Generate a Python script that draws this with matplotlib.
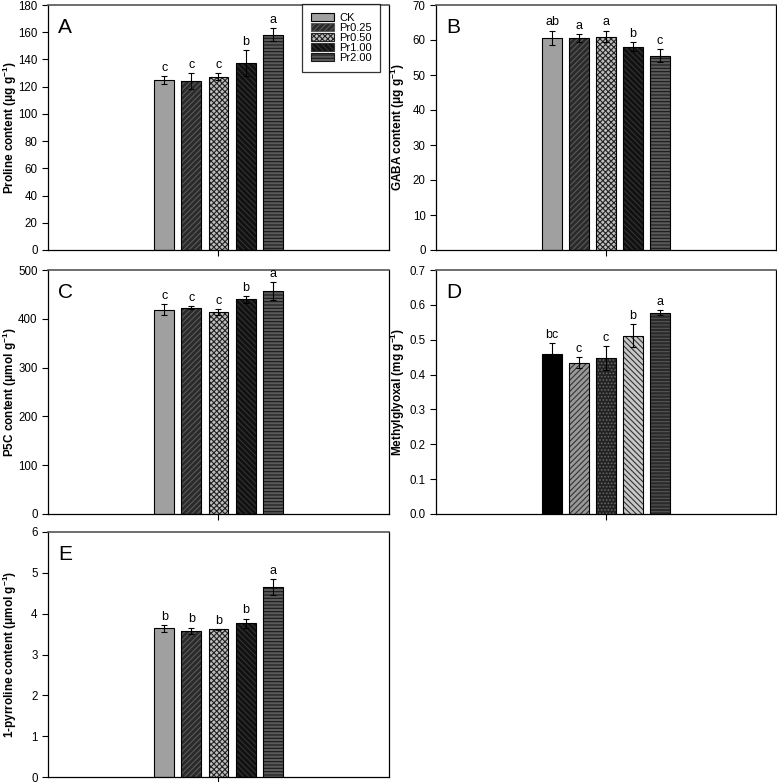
import numpy as np
import matplotlib
matplotlib.use('Agg')
import matplotlib.pyplot as plt
from matplotlib.patches import Patch

plt.rcParams['font.family'] = ['Liberation Sans', 'DejaVu Sans']
plt.rcParams['hatch.linewidth'] = 0.8
plt.rcParams['mathtext.fontset'] = 'custom'
plt.rcParams['mathtext.rm'] = 'Liberation Sans'
plt.rcParams['mathtext.bf'] = 'Liberation Sans:bold'
plt.rcParams['mathtext.default'] = 'bf'

# data
treatments = ['CK', 'Pr0.25', 'Pr0.50', 'Pr1.00', 'Pr2.00']

proline = [124.9, 124.4, 127.3, 137.4, 158.3]
proline_err = [3.2, 5.9, 2.4, 9.8, 5.0]
proline_sig = ['c', 'c', 'c', 'b', 'a']

gaba = [60.6, 60.6, 61.0, 58.1, 55.5]
gaba_err = [2.1, 1.2, 1.7, 1.2, 1.8]
gaba_sig = ['ab', 'a', 'a', 'b', 'c']

p5c = [419.0, 423.0, 414.5, 440.0, 457.5]
p5c_err = [12.0, 2.5, 6.0, 7.0, 18.0]
p5c_sig = ['c', 'c', 'c', 'b', 'a']

mg = [0.460, 0.434, 0.447, 0.511, 0.578]
mg_err = [0.030, 0.016, 0.034, 0.033, 0.008]
mg_sig = ['bc', 'c', 'c', 'b', 'a']

pyrroline = [3.64, 3.58, 3.62, 3.76, 4.65]
pyrroline_err = [0.08, 0.08, 0.01, 0.12, 0.19]
pyrroline_sig = ['b', 'b', 'b', 'b', 'a']

# bar fill styles (face colour, hatch, hatch colour)
styles = [
    ('#a0a0a0', '', '#a0a0a0'),
    ('#2a2a2a', '//////', '#5a5a5a'),
    ('#bdbdbd', 'xxxxxx', '#222222'),
    ('#111111', '\\\\\\\\\\\\', '#333333'),
    ('#5a5a5a', '-----', '#1a1a1a'),
]
styles_d = [
    ('#000000', '', '#000000'),
    ('#999999', '//////', '#333333'),
    ('#222222', '.....', '#666666'),
    ('#c8c8c8', '\\\\\\\\\\\\', '#333333'),
    ('#2a2a2a', '-----', '#555555'),
]


def draw_panel(ax, vals, errs, sig, ylim, yticks, ylabel, letter, st, fmt='{:g}'):
    x = np.arange(len(vals)) - 2
    for xi, v, (fc, h, hc) in zip(x, vals, st):
        ax.bar(xi, v, width=0.74, color=fc, hatch=h, edgecolor=hc, linewidth=0)
        ax.bar(xi, v, width=0.74, fill=False, edgecolor='black', linewidth=0.8)
    ax.errorbar(x, vals, yerr=errs, fmt='none', ecolor='black',
                elinewidth=0.8, capsize=2.5, capthick=0.8)
    for xi, v, e, s in zip(x, vals, errs, sig):
        ax.annotate(s, (xi, v + e), xytext=(0, 1.5), textcoords='offset points',
                    ha='center', va='bottom', fontsize=9)
    ax.set_xlim(-6.31, 6.31)
    ax.set_ylim(*ylim)
    ax.set_yticks(yticks)
    ax.set_yticklabels([fmt.format(t) for t in yticks])
    ax.set_xticks([0])
    ax.set_xticklabels([''])
    ax.tick_params(axis='both', direction='out', length=4, width=0.8, labelsize=8.3)
    ax.set_ylabel(ylabel, fontsize=8.5, fontweight='bold')
    ax.yaxis.set_label_coords(-0.085, 0.5)
    ax.text(0.03, 0.945, letter, transform=ax.transAxes, fontsize=15,
            ha='left', va='top')
    for side in ['left', 'bottom', 'right']:
        ax.spines[side].set_linewidth(0.9)
        ax.spines[side].set_color('black')
    ax.spines['top'].set_linewidth(1.2)
    ax.spines['top'].set_color('#555555')


W, H = 777, 782
fig = plt.figure(figsize=(W / 100, H / 100), dpi=100)

def px_axes(l, t, r, b):
    return fig.add_axes([l / W, 1 - b / H, (r - l) / W, (b - t) / H])

axA = px_axes(48, 5, 389, 250)
axB = px_axes(436, 5, 776, 250)
axC = px_axes(48, 270, 389, 514)
axD = px_axes(436, 270, 776, 514)
axE = px_axes(48, 532, 389, 777)

draw_panel(axA, proline, proline_err, proline_sig, (0, 180), np.arange(0, 181, 20),
           'Proline content (μg g$^{-1}$)', 'A', styles)
draw_panel(axB, gaba, gaba_err, gaba_sig, (0, 70), np.arange(0, 71, 10),
           'GABA content (μg g$^{-1}$)', 'B', styles)
draw_panel(axC, p5c, p5c_err, p5c_sig, (0, 500), np.arange(0, 501, 100),
           'P5C content (μmol g$^{-1}$)', 'C', styles)
draw_panel(axD, mg, mg_err, mg_sig, (0, 0.7), np.round(np.arange(0, 0.71, 0.1), 1),
           'Methylglyoxal (mg g$^{-1}$)', 'D', styles_d, fmt='{:.1f}')
draw_panel(axE, pyrroline, pyrroline_err, pyrroline_sig, (0, 6), np.arange(0, 7, 1),
           '1-pyrroline content (μmol g$^{-1}$)', 'E', styles)

handles = [Patch(facecolor=fc, hatch=h, edgecolor=hc if h else 'black', linewidth=0.8)
           for fc, h, hc in styles]
leg = axA.legend(handles, treatments, loc='upper right', bbox_to_anchor=(0.975, 1.004),
                 borderaxespad=0, fontsize=8, frameon=True, fancybox=False,
                 edgecolor='black', handlelength=2.1, handleheight=0.7,
                 labelspacing=0.0, handletextpad=0.45, borderpad=0.8)
leg.get_frame().set_linewidth(0.9)

fig.savefig('out.png', dpi=100)
